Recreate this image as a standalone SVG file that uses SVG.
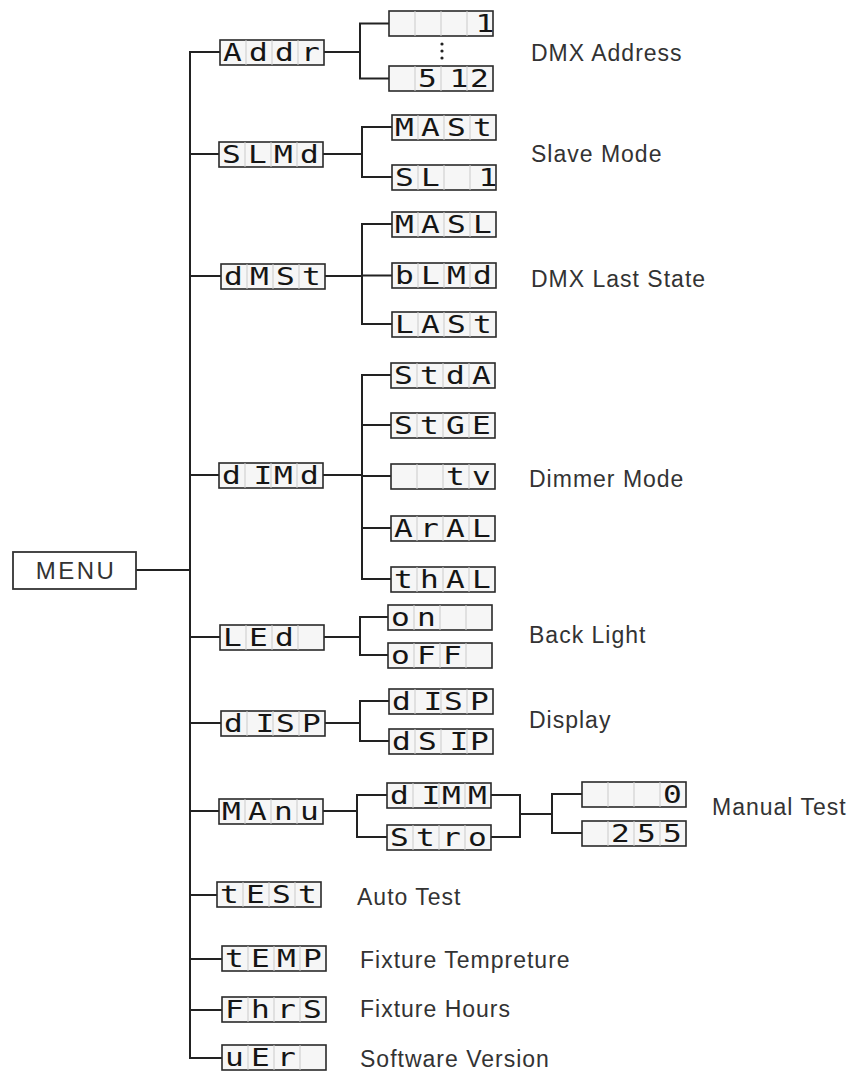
<svg xmlns="http://www.w3.org/2000/svg" width="851" height="1072" viewBox="0 0 851 1072">
<style>
.box{fill:#f6f6f6;stroke:#2a2a2a;stroke-width:1.6}
.div{stroke:#cacaca;stroke-width:1;fill:none}
.g{font-family:"DejaVu Sans Mono",monospace;font-size:24px;fill:#151515}
.lbl{font-family:"Liberation Sans",Arial,sans-serif;font-size:23px;fill:#333;letter-spacing:1px}
.menu{font-family:"Liberation Sans",Arial,sans-serif;font-size:24px;fill:#333;letter-spacing:2.5px}
.wire{fill:none;stroke:#222;stroke-width:2}
.mbox{fill:#fff;stroke:#333;stroke-width:1.8}
</style>
<rect width="851" height="1072" fill="#fff"/>
<g id="connectors" class="wire">
<path d="M136 570H190"/>
<path d="M220 52H190V1058H222"/>
<path d="M190 154H219M190 276H221M190 475H219M190 637H220M190 723H221M190 811H219M190 895H217M190 959H222M190 1010H222"/>
<path d="M324 52H360M389 23.5H360V78.5H389"/>
<path d="M323 154H362M392 127H362V177H392"/>
<path d="M325 276H362M392 224H362V324H392M362 275.5H392"/>
<path d="M323 475H362M391 375H362V579H391M362 425H391M362 476H391M362 528H391"/>
<path d="M324 637H360M388 617H360V655H388"/>
<path d="M325 723H360M389 701H360V741H389"/>
<path d="M323 811H357M387 795H357V837H387M491 795H520V837H491M520 814H552M582 794H552V833H582"/>
</g>
<g id="dots" fill="#222"><circle cx="442" cy="44" r="1.6"/><circle cx="442" cy="51" r="1.6"/><circle cx="442" cy="58" r="1.6"/></g>
<g id="menu"><rect class="mbox" x="13" y="552" width="123" height="37"/><text class="menu" x="76" y="579" text-anchor="middle">MENU</text></g>

<g id="n-addr"><rect class="box" x="220" y="40" width="104" height="25"/><path class="div" d="M246 40v25M272 40v25M298 40v25"/>
<text class="g" transform="matrix(1.3 0 0 1 220 0)" x="2.3 22.3 42.3 62.3" y="61.5">Addr</text></g>
<g id="n-addr-1"><rect class="box" x="389" y="11" width="104" height="25"/><path class="div" d="M415 11v25M441 11v25M467 11v25"/>
<text class="g" transform="matrix(1.3 0 0 1 389 0)" x="66.6" y="32.5">1</text></g>
<g id="n-addr-512"><rect class="box" x="389" y="66" width="104" height="25"/><path class="div" d="M415 66v25M441 66v25M467 66v25"/>
<text class="g" transform="matrix(1.3 0 0 1 389 0)" x="22.3 46.6 62.3" y="87.5">512</text></g>

<g id="n-slmd"><rect class="box" x="219" y="142" width="104" height="25"/><path class="div" d="M245 142v25M271 142v25M297 142v25"/>
<text class="g" transform="matrix(1.3 0 0 1 219 0)" x="2.3 22.3 42.3 62.3" y="163.5">SLMd</text></g>
<g id="n-mast"><rect class="box" x="392" y="115" width="104" height="25"/><path class="div" d="M418 115v25M444 115v25M470 115v25"/>
<text class="g" transform="matrix(1.3 0 0 1 392 0)" x="2.3 22.3 42.3 62.3" y="136.5">MASt</text></g>
<g id="n-sl1"><rect class="box" x="392" y="165" width="104" height="25"/><path class="div" d="M418 165v25M444 165v25M470 165v25"/>
<text class="g" transform="matrix(1.3 0 0 1 392 0)" x="2.3 22.3 66.6" y="186.5">SL1</text></g>

<g id="n-dmst"><rect class="box" x="221" y="264" width="104" height="25"/><path class="div" d="M247 264v25M273 264v25M299 264v25"/>
<text class="g" transform="matrix(1.3 0 0 1 221 0)" x="2.3 22.3 42.3 62.3" y="285.5">dMSt</text></g>
<g id="n-masl"><rect class="box" x="392" y="212" width="104" height="25"/><path class="div" d="M418 212v25M444 212v25M470 212v25"/>
<text class="g" transform="matrix(1.3 0 0 1 392 0)" x="2.3 22.3 42.3 62.3" y="233.5">MASL</text></g>
<g id="n-blmd"><rect class="box" x="392" y="263" width="104" height="25"/><path class="div" d="M418 263v25M444 263v25M470 263v25"/>
<text class="g" transform="matrix(1.3 0 0 1 392 0)" x="2.3 22.3 42.3 62.3" y="284.5">bLMd</text></g>
<g id="n-last"><rect class="box" x="392" y="312" width="104" height="25"/><path class="div" d="M418 312v25M444 312v25M470 312v25"/>
<text class="g" transform="matrix(1.3 0 0 1 392 0)" x="2.3 22.3 42.3 62.3" y="333.5">LASt</text></g>

<g id="n-dimd"><rect class="box" x="219" y="463" width="104" height="25"/><path class="div" d="M245 463v25M271 463v25M297 463v25"/>
<text class="g" transform="matrix(1.3 0 0 1 219 0)" x="2.3 26.6 42.3 62.3" y="484.5">dIMd</text></g>
<g id="n-stda"><rect class="box" x="391" y="363" width="104" height="25"/><path class="div" d="M417 363v25M443 363v25M469 363v25"/>
<text class="g" transform="matrix(1.3 0 0 1 391 0)" x="2.3 22.3 42.3 62.3" y="384.5">StdA</text></g>
<g id="n-stge"><rect class="box" x="391" y="413" width="104" height="25"/><path class="div" d="M417 413v25M443 413v25M469 413v25"/>
<text class="g" transform="matrix(1.3 0 0 1 391 0)" x="2.3 22.3 42.3 62.3" y="434.5">StGE</text></g>
<g id="n-tv"><rect class="box" x="391" y="464" width="104" height="25"/><path class="div" d="M417 464v25M443 464v25M469 464v25"/>
<text class="g" transform="matrix(1.3 0 0 1 391 0)" x="42.3 62.3" y="485.5">tv</text></g>
<g id="n-aral"><rect class="box" x="391" y="516" width="104" height="25"/><path class="div" d="M417 516v25M443 516v25M469 516v25"/>
<text class="g" transform="matrix(1.3 0 0 1 391 0)" x="2.3 22.3 42.3 62.3" y="537.5">ArAL</text></g>
<g id="n-thal"><rect class="box" x="391" y="567" width="104" height="25"/><path class="div" d="M417 567v25M443 567v25M469 567v25"/>
<text class="g" transform="matrix(1.3 0 0 1 391 0)" x="2.3 22.3 42.3 62.3" y="588.5">thAL</text></g>

<g id="n-led"><rect class="box" x="220" y="625" width="104" height="25"/><path class="div" d="M246 625v25M272 625v25M298 625v25"/>
<text class="g" transform="matrix(1.3 0 0 1 220 0)" x="2.3 22.3 42.3" y="646.5">LEd</text></g>
<g id="n-on"><rect class="box" x="388" y="605" width="104" height="25"/><path class="div" d="M414 605v25M440 605v25M466 605v25"/>
<text class="g" transform="matrix(1.3 0 0 1 388 0)" x="2.3 22.3" y="626.5">on</text></g>
<g id="n-off"><rect class="box" x="388" y="643" width="104" height="25"/><path class="div" d="M414 643v25M440 643v25M466 643v25"/>
<text class="g" transform="matrix(1.3 0 0 1 388 0)" x="2.3 22.3 42.3" y="664.5">oFF</text></g>

<g id="n-disp"><rect class="box" x="221" y="711" width="104" height="25"/><path class="div" d="M247 711v25M273 711v25M299 711v25"/>
<text class="g" transform="matrix(1.3 0 0 1 221 0)" x="2.3 26.6 42.3 62.3" y="732.5">dISP</text></g>
<g id="n-disp-a"><rect class="box" x="389" y="689" width="104" height="25"/><path class="div" d="M415 689v25M441 689v25M467 689v25"/>
<text class="g" transform="matrix(1.3 0 0 1 389 0)" x="2.3 26.6 42.3 62.3" y="710.5">dISP</text></g>
<g id="n-dsip"><rect class="box" x="389" y="729" width="104" height="25"/><path class="div" d="M415 729v25M441 729v25M467 729v25"/>
<text class="g" transform="matrix(1.3 0 0 1 389 0)" x="2.3 22.3 46.6 62.3" y="750.5">dSIP</text></g>

<g id="n-manu"><rect class="box" x="219" y="799" width="104" height="25"/><path class="div" d="M245 799v25M271 799v25M297 799v25"/>
<text class="g" transform="matrix(1.3 0 0 1 219 0)" x="2.3 22.3 42.3 62.3" y="820.5">MAnu</text></g>
<g id="n-dimm"><rect class="box" x="387" y="783" width="104" height="25"/><path class="div" d="M413 783v25M439 783v25M465 783v25"/>
<text class="g" transform="matrix(1.3 0 0 1 387 0)" x="2.3 26.6 42.3 62.3" y="804.5">dIMM</text></g>
<g id="n-stro"><rect class="box" x="387" y="825" width="104" height="25"/><path class="div" d="M413 825v25M439 825v25M465 825v25"/>
<text class="g" transform="matrix(1.3 0 0 1 387 0)" x="2.3 22.3 42.3 62.3" y="846.5">Stro</text></g>
<g id="n-0"><rect class="box" x="582" y="782" width="104" height="25"/><path class="div" d="M608 782v25M634 782v25M660 782v25"/>
<text class="g" transform="matrix(1.3 0 0 1 582 0)" x="62.3" y="803.5">0</text></g>
<g id="n-255"><rect class="box" x="582" y="821" width="104" height="25"/><path class="div" d="M608 821v25M634 821v25M660 821v25"/>
<text class="g" transform="matrix(1.3 0 0 1 582 0)" x="22.3 42.3 62.3" y="842.5">255</text></g>

<g id="n-test"><rect class="box" x="217" y="882" width="104" height="25"/><path class="div" d="M243 882v25M269 882v25M295 882v25"/>
<text class="g" transform="matrix(1.3 0 0 1 217 0)" x="2.3 22.3 42.3 62.3" y="903.5">tESt</text></g>
<g id="n-temp"><rect class="box" x="222" y="946" width="104" height="25"/><path class="div" d="M248 946v25M274 946v25M300 946v25"/>
<text class="g" transform="matrix(1.3 0 0 1 222 0)" x="2.3 22.3 42.3 62.3" y="967.5">tEMP</text></g>
<g id="n-fhrs"><rect class="box" x="222" y="997" width="104" height="25"/><path class="div" d="M248 997v25M274 997v25M300 997v25"/>
<text class="g" transform="matrix(1.3 0 0 1 222 0)" x="2.3 22.3 42.3 62.3" y="1018.5">FhrS</text></g>
<g id="n-uer"><rect class="box" x="222" y="1045" width="104" height="25"/><path class="div" d="M248 1045v25M274 1045v25M300 1045v25"/>
<text class="g" transform="matrix(1.3 0 0 1 222 0)" x="2.3 22.3 42.3" y="1066.5">uEr</text></g>

<g id="labels">
<text class="lbl" x="531" y="61">DMX Address</text>
<text class="lbl" x="531" y="162">Slave Mode</text>
<text class="lbl" x="531" y="287">DMX Last State</text>
<text class="lbl" x="529" y="487">Dimmer Mode</text>
<text class="lbl" x="529" y="643">Back Light</text>
<text class="lbl" x="529" y="728">Display</text>
<text class="lbl" x="712" y="815">Manual Test</text>
<text class="lbl" x="357" y="905">Auto Test</text>
<text class="lbl" x="360" y="968">Fixture Tempreture</text>
<text class="lbl" x="360" y="1017">Fixture Hours</text>
<text class="lbl" x="360" y="1067">Software Version</text>
</g>
</svg>
